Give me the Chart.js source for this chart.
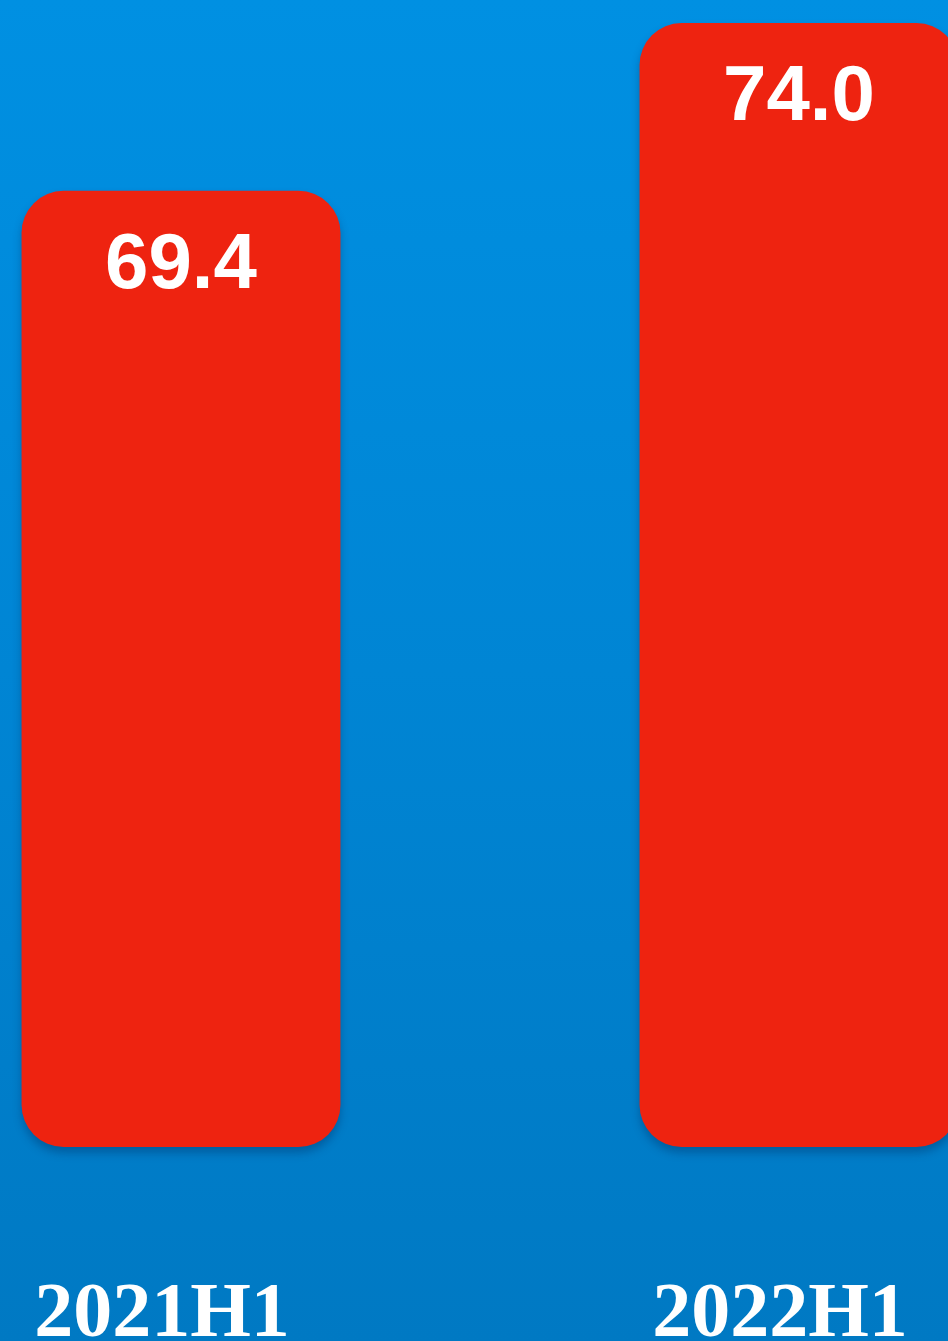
<!DOCTYPE html>
<html>
<head>
<meta charset="utf-8">
<script src="https://cdn.jsdelivr.net/npm/chart.js@4.4.0/dist/chart.umd.min.js"></script>
<style>
  html, body { margin: 0; padding: 0; width: 948px; height: 1341px; overflow: hidden; }
  body { background: linear-gradient(to bottom, #0090e2 0%, #0085d4 50%, #0079c3 100%); position: relative; }
  #wrap { position: absolute; left: -128px; top: 0; width: 1236px; height: 1485px; }
</style>
</head>
<body>
<div id="wrap"><canvas id="chart"></canvas></div>
<script>
// data
const categories = ['2021H1', '2022H1'];
const values = [69.4, 74.0];
const yMin = 43.2;
const yMax = 74.63;

const barRed = '#ee2310';

// soft shadow under the bars
const barShadow = {
  id: 'barShadow',
  beforeDatasetsDraw(chart) {
    const ctx = chart.ctx;
    ctx.save();
    ctx.shadowColor = 'rgba(0, 40, 90, 0.35)';
    ctx.shadowBlur = 8;
    ctx.shadowOffsetY = 6;
  },
  afterDatasetsDraw(chart) {
    chart.ctx.restore();
  }
};

// value text inside the top of each bar
const valueLabels = {
  id: 'valueLabels',
  afterDatasetsDraw(chart) {
    const ctx = chart.ctx;
    const meta = chart.getDatasetMeta(0);
    ctx.save();
    ctx.fillStyle = '#ffffff';
    ctx.font = 'bold 78px "Liberation Sans", Arial, sans-serif';
    ctx.textAlign = 'center';
    ctx.textBaseline = 'alphabetic';
    meta.data.forEach((bar, i) => {
      ctx.fillText(values[i].toFixed(1), bar.x, bar.y + 97);
    });
    ctx.restore();
  }
};

new Chart(document.getElementById('chart'), {
  type: 'bar',
  data: {
    labels: categories,
    datasets: [{
      data: values,
      base: yMin,
      backgroundColor: barRed,
      borderRadius: 42,
      borderSkipped: false,
      barPercentage: 0.516,
      categoryPercentage: 1,
      clip: false
    }]
  },
  options: {
    responsive: true,
    maintainAspectRatio: false,
    animation: false,
    layout: { padding: 0 },
    plugins: {
      legend: { display: false },
      tooltip: { enabled: false }
    },
    scales: {
      x: {
        grid: { display: false, drawTicks: false },
        border: { display: false },
        ticks: {
          color: '#ffffff',
          padding: 130,
          labelOffset: -19,
          font: { family: '"Liberation Serif", "Times New Roman", serif', size: 78, weight: 'bold', lineHeight: 1 }
        }
      },
      y: {
        display: false,
        min: yMin,
        max: yMax
      }
    }
  },
  plugins: [barShadow, valueLabels]
});
</script>
</body>
</html>
